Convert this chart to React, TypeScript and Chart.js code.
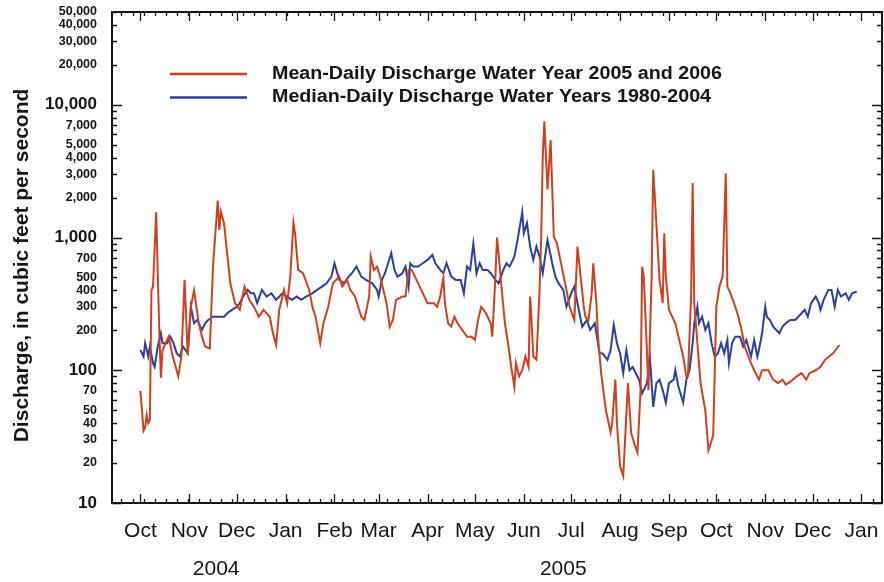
import React, { useEffect, useRef } from 'react';
import { Chart, registerables } from 'chart.js';

Chart.register(...registerables);

// ---- Data (x = days since Oct 1, 2004; y = discharge in ft3/s) ----
const monthLabels = ['Oct', 'Nov', 'Dec', 'Jan', 'Feb', 'Mar', 'Apr', 'May', 'Jun', 'Jul', 'Aug', 'Sep', 'Oct', 'Nov', 'Dec', 'Jan'];
const monthDays = [0, 31, 61, 92, 123, 151, 182, 212, 243, 273, 304, 335, 365, 396, 426, 457];
const yearLabels = ['2004', '2005'];
const yearDays = [48, 268];

const yTickValues = [
  10, 20, 30, 40, 50, 60, 70, 80, 90,
  100, 200, 300, 400, 500, 600, 700, 800, 900,
  1000, 2000, 3000, 4000, 5000, 6000, 7000, 8000, 9000,
  10000, 20000, 30000, 40000, 50000,
];
const yLabelValues = [10, 20, 30, 40, 50, 70, 100, 200, 300, 400, 500, 700, 1000, 2000, 3000, 4000, 5000, 7000, 10000, 20000, 30000, 40000, 50000];
const yMajorValues = [10, 100, 1000, 10000];

const seriesLabels = [
  'Mean-Daily Discharge Water Year 2005 and 2006',
  'Median-Daily Discharge Water Years 1980-2004',
];

const redDays = [0, 1, 2, 3, 4, 5, 6, 7, 8, 10, 12, 13, 14, 16, 18, 20, 24, 26, 28, 30, 32, 34, 37, 39, 41, 44, 46, 49, 50, 51, 53, 55, 57, 60, 63, 66, 69, 72, 75, 78, 82, 84, 86, 88, 91, 93, 95, 97, 98, 100, 103, 107, 109, 111, 114, 116, 119, 122, 126, 128, 131, 133, 136, 140, 142, 145, 146, 148, 150, 152, 154, 156, 158, 160, 162, 166, 168, 170, 172, 174, 177, 180, 182, 186, 188, 190, 192, 193, 195, 197, 199, 201, 204, 207, 210, 212, 214, 216, 219, 222, 223, 225, 226, 227, 229, 231, 233, 235, 237, 238, 240, 242, 244, 246, 247, 248, 249, 251, 253, 254, 255, 256, 258, 260, 262, 264, 267, 270, 272, 275, 277, 279, 281, 282, 284, 286, 287, 289, 290, 292, 295, 298, 299, 301, 302, 304, 306, 309, 311, 313, 315, 317, 318, 319, 321, 322, 324, 325, 327, 329, 331, 332, 333, 335, 339, 342, 344, 346, 347, 349, 350, 351, 353, 355, 358, 360, 363, 365, 367, 369, 371, 372, 374, 377, 379, 381, 383, 386, 389, 392, 394, 398, 401, 404, 407, 409, 412, 416, 419, 422, 424, 428, 431, 434, 439, 443];
const redFlow = [70, 50, 35, 37, 46, 40, 42, 400, 430, 1550, 190, 88, 142, 160, 180, 134, 90, 127, 480, 130, 300, 400, 226, 180, 151, 146, 600, 1900, 1140, 1570, 1280, 760, 450, 320, 285, 427, 340, 300, 253, 285, 253, 190, 155, 285, 403, 320, 507, 1300, 1080, 570, 540, 403, 300, 253, 160, 226, 300, 452, 507, 427, 479, 403, 360, 253, 239, 360, 720, 570, 604, 507, 403, 320, 213, 239, 339, 359, 359, 570, 570, 507, 427, 359, 320, 320, 301, 359, 500, 320, 226, 213, 253, 226, 201, 179, 179, 169, 239, 301, 269, 226, 179, 507, 1000, 762, 403, 226, 160, 106, 75, 113, 90, 100, 127, 106, 359, 226, 127, 120, 403, 1016, 4070, 7500, 2300, 5400, 1016, 906, 604, 403, 301, 239, 854, 507, 301, 253, 239, 380, 640, 320, 179, 95, 50, 34, 40, 85, 40, 19, 16, 80, 34, 28, 24, 71, 604, 507, 142, 71, 507, 3230, 1280, 479, 320, 1077, 507, 285, 226, 160, 127, 90, 90, 359, 2570, 320, 160, 80, 50, 25, 32, 301, 427, 507, 3050, 427, 380, 301, 253, 201, 151, 120, 100, 85, 100, 100, 85, 80, 85, 78, 82, 90, 95, 85, 95, 100, 106, 120, 134, 155];

const blueDays = [0, 2, 3, 5, 6, 8, 9, 11, 13, 14, 17, 19, 21, 23, 25, 27, 30, 32, 34, 36, 39, 41, 43, 46, 50, 53, 55, 58, 61, 63, 65, 68, 70, 72, 74, 77, 80, 83, 86, 90, 93, 96, 99, 102, 105, 109, 112, 115, 118, 121, 123, 126, 129, 132, 134, 137, 140, 143, 147, 150, 151, 153, 155, 157, 159, 161, 163, 166, 168, 170, 171, 173, 176, 179, 182, 185, 187, 190, 192, 194, 197, 200, 203, 205, 207, 209, 211, 213, 215, 217, 220, 222, 225, 227, 230, 232, 234, 237, 239, 242, 243, 245, 247, 249, 251, 253, 255, 258, 261, 263, 265, 268, 270, 273, 275, 277, 280, 283, 285, 288, 291, 293, 296, 298, 300, 302, 304, 306, 308, 310, 312, 314, 316, 318, 321, 323, 325, 327, 329, 331, 333, 335, 338, 339, 341, 344, 346, 348, 350, 351, 353, 354, 356, 358, 360, 362, 364, 366, 368, 370, 372, 373, 375, 377, 380, 382, 384, 387, 389, 391, 392, 394, 396, 397, 399, 401, 403, 405, 407, 409, 412, 415, 417, 419, 421, 423, 425, 428, 430, 431, 433, 436, 438, 440, 442, 444, 447, 449, 451, 454];
const blueFlow = [142, 127, 160, 127, 151, 113, 106, 151, 190, 160, 160, 179, 160, 134, 127, 151, 134, 301, 226, 239, 201, 226, 239, 253, 253, 253, 269, 285, 301, 320, 359, 403, 380, 380, 320, 403, 359, 380, 339, 380, 359, 339, 359, 339, 359, 380, 403, 427, 452, 507, 640, 479, 452, 507, 538, 604, 507, 479, 452, 403, 359, 479, 538, 640, 762, 570, 507, 538, 604, 427, 640, 604, 604, 640, 678, 739, 640, 570, 538, 640, 507, 479, 479, 380, 604, 570, 900, 538, 640, 570, 570, 538, 479, 452, 570, 640, 604, 718, 959, 1550, 1077, 1282, 854, 678, 854, 718, 538, 959, 640, 507, 452, 403, 301, 380, 427, 320, 213, 239, 201, 226, 134, 134, 120, 142, 219, 160, 134, 95, 142, 100, 106, 95, 85, 67, 80, 120, 53, 80, 85, 71, 57, 80, 85, 100, 75, 57, 85, 100, 160, 226, 301, 226, 253, 201, 226, 160, 127, 134, 160, 134, 169, 113, 160, 179, 179, 151, 169, 127, 169, 127, 142, 190, 301, 253, 239, 213, 201, 190, 213, 226, 239, 239, 253, 269, 285, 253, 320, 359, 320, 285, 339, 403, 403, 301, 403, 359, 380, 339, 380, 392];

const RED = '#d0401e';
const BLUE = '#2b3f9e';
const INK = '#141414';
const FONT = '"Liberation Sans", Arial, Helvetica, sans-serif';

const toPoints = (xs: number[], ys: number[]) => xs.map((d, i) => ({ x: d, y: ys[i] }));

const zeroPad = (scale: any) => {
  scale.paddingTop = 0;
  scale.paddingBottom = 0;
  scale.paddingLeft = 0;
  scale.paddingRight = 0;
};

const framePlugin = {
  id: 'framePlugin',
  afterDraw(chart: any) {
    const { ctx, chartArea: a, scales } = chart;
    const xs = scales.x;
    const ys = scales.y;
    ctx.save();
    ctx.strokeStyle = INK;
    ctx.lineWidth = 1.3;
    ctx.beginPath();
    for (const v of yTickValues) {
      const py = Math.round(ys.getPixelForValue(v)) + 0.5;
      const len = yMajorValues.includes(v) ? 10 : 5;
      ctx.moveTo(a.left, py);
      ctx.lineTo(a.left + len, py);
      ctx.moveTo(a.right, py);
      ctx.lineTo(a.right - len, py);
    }
    for (let d = -12; d <= xs.max; d += 7) {
      const px = Math.round(xs.getPixelForValue(d)) + 0.5;
      ctx.moveTo(px, a.bottom);
      ctx.lineTo(px, a.bottom - 4);
      ctx.moveTo(px, a.top);
      ctx.lineTo(px, a.top + 4);
    }
    for (const d of monthDays) {
      const px = Math.round(xs.getPixelForValue(d)) + 0.5;
      ctx.moveTo(px, a.bottom);
      ctx.lineTo(px, a.bottom - 9);
      ctx.moveTo(px, a.top);
      ctx.lineTo(px, a.top + 9);
    }
    ctx.stroke();

    ctx.lineWidth = 2;
    ctx.strokeRect(a.left, a.top, a.right - a.left, a.bottom - a.top);

    // year labels
    ctx.fillStyle = INK;
    ctx.font = `21px ${FONT}`;
    ctx.textAlign = 'center';
    ctx.textBaseline = 'middle';
    yearLabels.forEach((t, i) => ctx.fillText(t, xs.getPixelForValue(yearDays[i]), a.bottom + 66));

    // y-axis title
    ctx.save();
    ctx.translate(22, (a.top + a.bottom) / 2 + 8);
    ctx.rotate(-Math.PI / 2);
    ctx.font = `bold 21px ${FONT}`;
    ctx.fillText('Discharge, in cubic feet per second', 0, 0);
    ctx.restore();

    // legend
    const colors = chart.data.datasets.map((ds: any) => ds.borderColor);
    ctx.font = `bold 18px ${FONT}`;
    ctx.textAlign = 'left';
    ctx.lineWidth = 2.5;
    const targetW = 450;
    const baseW = ctx.measureText(seriesLabels[0]).width;
    const sx = targetW / baseW;
    seriesLabels.forEach((lab, i) => {
      const ly = a.top + 62 + i * 23.5;
      ctx.strokeStyle = colors[i];
      ctx.beginPath();
      ctx.moveTo(a.left + 58, ly);
      ctx.lineTo(a.left + 135, ly);
      ctx.stroke();
      ctx.save();
      ctx.translate(a.left + 160, ly);
      ctx.scale(sx, 1);
      ctx.fillStyle = INK;
      ctx.fillText(lab, 0, 0);
      ctx.restore();
    });
    ctx.restore();
  },
};

export default function App() {
  const canvasRef = useRef<HTMLCanvasElement | null>(null);

  useEffect(() => {
    if (!canvasRef.current) return;
    const chart = new Chart(canvasRef.current, {
      type: 'line',
      data: {
        datasets: [
          {
            label: seriesLabels[0],
            data: toPoints(redDays, redFlow),
            borderColor: RED,
            backgroundColor: RED,
            borderWidth: 2,
            pointRadius: 0,
            tension: 0,
          },
          {
            label: seriesLabels[1],
            data: toPoints(blueDays, blueFlow),
            borderColor: BLUE,
            backgroundColor: BLUE,
            borderWidth: 2,
            pointRadius: 0,
            tension: 0,
          },
        ],
      },
      options: {
        responsive: false,
        animation: false,
        layout: { padding: { top: 12, right: 2, left: 0, bottom: 0 } },
        plugins: {
          legend: { display: false },
          tooltip: { enabled: false },
          title: { display: false },
        },
        scales: {
          x: {
            type: 'linear',
            min: -18,
            max: 470,
            grid: { display: false, drawTicks: false },
            border: { display: false },
            afterBuildTicks: (scale: any) => {
              scale.ticks = monthDays.map((v) => ({ value: v }));
            },
            afterFit: (scale: any) => {
              scale.height = 79;
              zeroPad(scale);
            },
            ticks: {
              autoSkip: false,
              maxRotation: 0,
              padding: 16,
              color: INK,
              font: { family: FONT, size: 21 },
              callback: (_v: any, i: number) => monthLabels[i],
            },
          },
          y: {
            type: 'logarithmic',
            min: 10,
            max: 50000,
            grid: { display: false, drawTicks: false },
            border: { display: false },
            afterBuildTicks: (scale: any) => {
              scale.ticks = yTickValues.map((v) => ({ value: v }));
            },
            afterFit: (scale: any) => {
              scale.width = 112;
              zeroPad(scale);
            },
            ticks: {
              autoSkip: false,
              padding: 15,
              color: INK,
              font: (ctx: any) => ({
                family: FONT,
                weight: 'bold',
                size: ctx.tick && yMajorValues.includes(ctx.tick.value) ? 17 : 12.5,
              }),
              callback: (v: any) => (yLabelValues.includes(Number(v)) ? Number(v).toLocaleString('en-US') : ''),
            },
          },
        },
      },
      plugins: [framePlugin],
    });
    return () => chart.destroy();
  }, []);

  return (
    <div style={{ position: 'absolute', left: 0, top: 0, width: 884, height: 582, background: '#fff' }}>
      <canvas ref={canvasRef} width={884} height={582} style={{ display: 'block' }} />
    </div>
  );
}
